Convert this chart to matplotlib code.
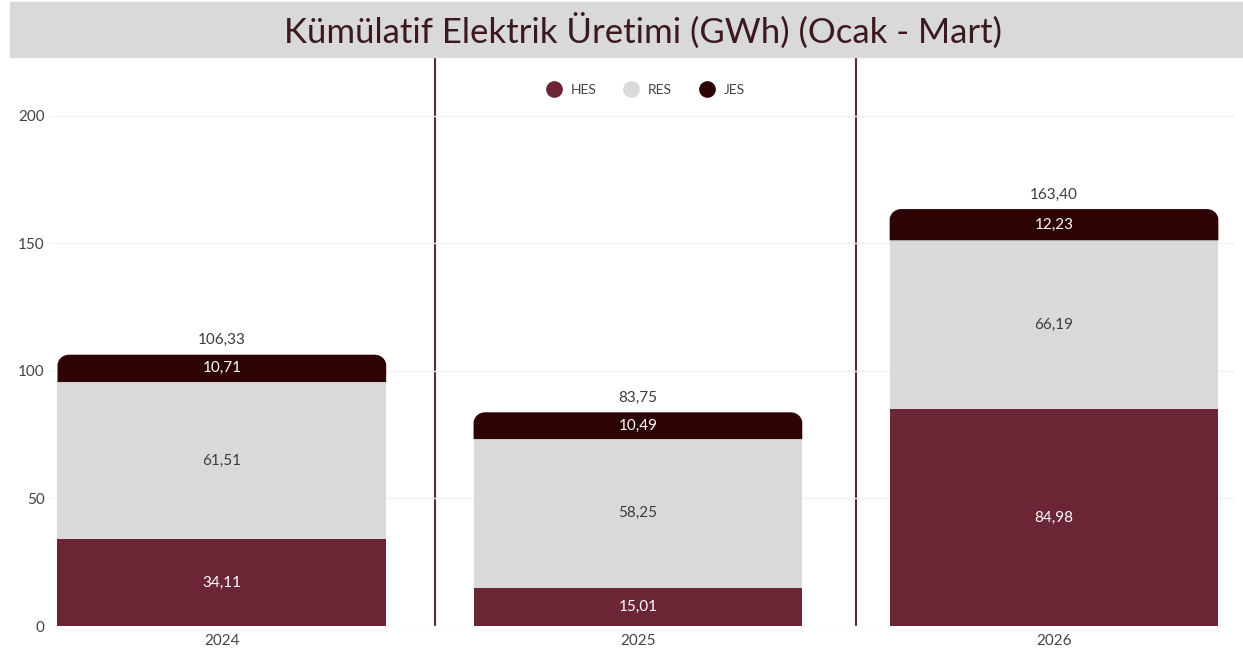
import matplotlib.pyplot as plt
from matplotlib.patches import PathPatch, Rectangle
from matplotlib.path import Path
from matplotlib.lines import Line2D

years = ['2024', '2025', '2026']
hes = [34.11, 15.01, 84.98]
res = [61.51, 58.25, 66.19]
jes = [10.71, 10.49, 12.23]
totals = [106.33, 83.75, 163.40]

c_hes = '#6b2535'
c_res = '#d9d9d9'
c_jes = '#2e0303'
txt_dark = '#3c3c3c'

plt.rcParams['font.family'] = ['Lato', 'DejaVu Sans']


def fmt(v):
    return f'{v:.2f}'.replace('.', ',')


def rounded_top(x0, y0, w, h, rx, ry):
    # rectangle with rounded top corners, rx/ry in data units
    k = 0.5523
    verts = [
        (x0, y0), (x0 + w, y0), (x0 + w, y0 + h - ry),
        (x0 + w, y0 + h - ry + k * ry), (x0 + w - rx + k * rx, y0 + h), (x0 + w - rx, y0 + h),
        (x0 + rx, y0 + h),
        (x0 + rx - k * rx, y0 + h), (x0, y0 + h - ry + k * ry), (x0, y0 + h - ry),
        (x0, y0),
    ]
    codes = [Path.MOVETO, Path.LINETO, Path.LINETO,
             Path.CURVE4, Path.CURVE4, Path.CURVE4,
             Path.LINETO,
             Path.CURVE4, Path.CURVE4, Path.CURVE4,
             Path.CLOSEPOLY]
    return Path(verts, codes)


fig = plt.figure(figsize=(12.43, 6.52), dpi=100)
ax = fig.add_axes([50 / 1243, 26 / 652, 1185 / 1243, 569 / 652])

# title banner
fig.patches.append(Rectangle((10 / 1243, (652 - 57) / 652), 1, 55 / 652,
                             transform=fig.transFigure, color='#d9d9d9', zorder=0))
fig.text(0.517, (652 - 31) / 652, 'Kümülatif Elektrik Üretimi (GWh) (Ocak - Mart)',
         ha='center', va='center', fontsize=25, color='#3a1a1f')

x = list(range(len(years)))
width = 0.79
bottom_res = hes
bottom_jes = [a + b for a, b in zip(hes, res)]

ax.bar(x, hes, width, color=c_hes, zorder=2)
ax.bar(x, res, width, bottom=bottom_res, color=c_res, zorder=2)
for i in x:
    p = rounded_top(i - width / 2, bottom_jes[i], width, jes[i], 0.028, 4.2)
    ax.add_patch(PathPatch(p, facecolor=c_jes, edgecolor='none', zorder=2))

for i in x:
    ax.text(i, hes[i] / 2, fmt(hes[i]), ha='center', va='center', color='white', fontsize=11, zorder=3)
    ax.text(i, bottom_res[i] + res[i] / 2, fmt(res[i]), ha='center', va='center', color=txt_dark, fontsize=11, zorder=3)
    ax.text(i, bottom_jes[i] + jes[i] / 2, fmt(jes[i]), ha='center', va='center', color='white', fontsize=11, zorder=3)
    ax.text(i, totals[i] + 3, fmt(totals[i]), ha='center', va='bottom', color=txt_dark, fontsize=11, zorder=3)

for xv in [0.512, 1.523]:
    ax.axvline(xv, color='#5a2a30', lw=1.5, zorder=1)

ax.set_xlim(-0.413, 2.435)
ax.set_ylim(0, 223)
ax.set_yticks([0, 50, 100, 150, 200])
ax.set_xticks(x)
ax.set_xticklabels(years)
ax.grid(axis='y', color='#f2f2f2', lw=1, zorder=0)
ax.tick_params(length=0, labelsize=11, colors='#444444')
ax.tick_params(axis='y', pad=4)
ax.tick_params(axis='x', pad=6)
for s in ax.spines.values():
    s.set_visible(False)

handles = [Line2D([], [], marker='o', ls='', color=c, markersize=11) for c in (c_hes, c_res, c_jes)]
ax.legend(handles, ['HES', 'RES', 'JES'], loc='upper center', bbox_to_anchor=(0.5, 0.975), ncol=3,
          frameon=False, fontsize=10, handletextpad=0.2, columnspacing=1.5, labelcolor='#444444')

fig.savefig('out.png', dpi=100)
